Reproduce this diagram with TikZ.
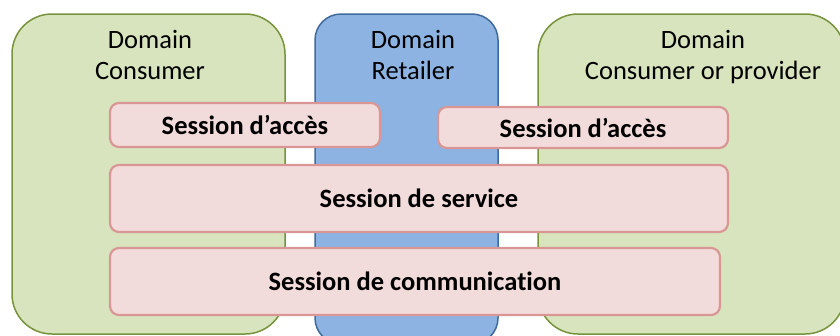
\documentclass[tikz,border=0pt]{standalone}
\usepackage{fontspec}
\setmainfont{Carlito}[Ligatures=NoCommon]
\usetikzlibrary{positioning}
\definecolor{greenfill}{HTML}{D7E4BD}
\definecolor{greenline}{HTML}{77933C}
\definecolor{bluefill}{HTML}{8DB3E2}
\definecolor{blueline}{HTML}{3F6A9C}
\definecolor{pinkfill}{HTML}{F2DCDB}
\definecolor{pinkline}{HTML}{D99694}
\begin{document}
\begin{tikzpicture}[x=1pt,y=-1pt,
	every node/.style={font=\fontsize{26.5}{31}\selectfont},
	domainbox/.style={draw=greenline,fill=greenfill,line width=1.5pt,rounded corners=40pt,inner sep=0pt},
	retailbox/.style={draw=blueline,fill=bluefill,line width=1.5pt,rounded corners=26pt,inner sep=0pt},
	sessionbox/.style={draw=pinkline,fill=pinkfill,line width=2.2pt,rounded corners=9pt,inner sep=0pt,font=\fontsize{26.5}{31}\selectfont\bfseries},
	domainlabel/.style={align=center,anchor=north,inner sep=0pt}]
		\useasboundingbox (0,0) rectangle (840,335);
		\clip (0,0) rectangle (840,335);
		% domains
		\node[domainbox,minimum width=273pt,minimum height=320pt] (consumer) at (148.5,174) {};
		\node[retailbox,minimum width=183pt,minimum height=330pt] (retailer) at (406.5,179) {};
		\node[domainbox,minimum width=307pt,minimum height=320pt] (provider) at (691.5,174) {};
		\node[domainlabel] (consumerlbl) at (150,30) {Domain\\Consumer};
		\node[domainlabel] (retailerlbl) at (413,30) {Domain\\Retailer};
		\node[domainlabel] (providerlbl) at (703,30) {Domain\\Consumer or provider};
		% sessions
		\node[sessionbox,minimum width=270pt,minimum height=44pt] (access1) at (245,125) {Session d’accès};
		\node[sessionbox,minimum width=290pt,minimum height=41pt] (access2) at (583,127.5) {Session d’accès};
		\node[sessionbox,minimum width=618pt,minimum height=67pt] (service) at (419,198.5) {Session de service};
		\node[sessionbox,minimum width=610pt,minimum height=67pt] (comm) at (415,281.5) {Session de communication};
\end{tikzpicture}
\end{document}
